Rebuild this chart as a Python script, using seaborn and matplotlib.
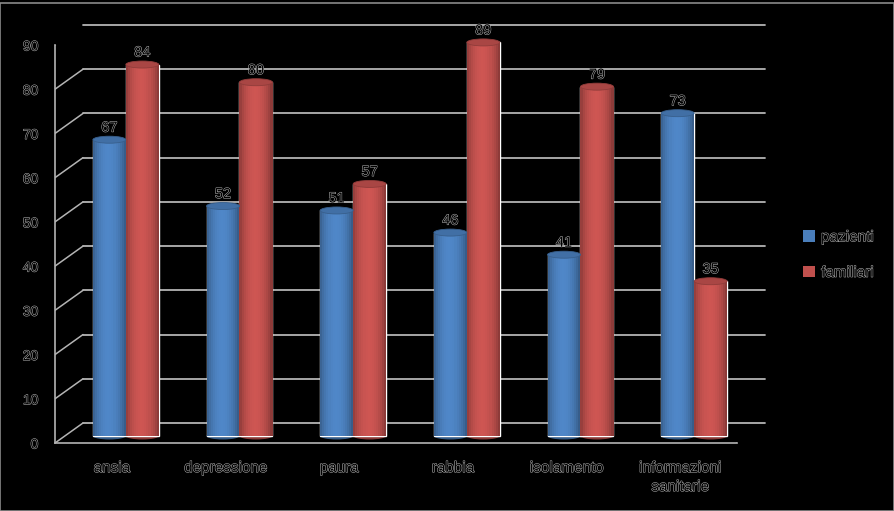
import matplotlib
matplotlib.use("Agg")
import matplotlib.pyplot as plt
import matplotlib.patheffects as pe
from matplotlib.patches import Ellipse, Rectangle, Patch
from matplotlib.transforms import ScaledTranslation
import numpy as np
import pandas as pd
import seaborn as sns

categories = ["ansia", "depressione", "paura", "rabbia", "isolamento", "informazioni\nsanitarie"]
pazienti = [67, 52, 51, 46, 41, 73]
familiari = [84, 80, 57, 89, 79, 35]
series_names = ["pazienti", "familiari"]
colors = {"pazienti": "#4a7ebb", "familiari": "#c0504d"}

df = pd.DataFrame({
    "categoria": categories * 2,
    "valore": pazienti + familiari,
    "gruppo": [series_names[0]] * len(categories) + [series_names[1]] * len(categories),
})

sns.set_theme(style="white")
plt.rcParams["font.family"] = ["Liberation Sans", "DejaVu Sans"]

W, H = 895, 511
fig = plt.figure(figsize=(W / 100, H / 100), dpi=100, facecolor="black")
ax = fig.add_axes([55 / W, (H - 443) / H, 682 / W, (443 - 45) / H])
ax.set_facecolor("none")

grid_col = "#b4b4b4"
# dark text with a faint light outline, like the reference
outline = [pe.withStroke(linewidth=0.7, foreground="#b8b8b8")]

sns.barplot(data=df, x="categoria", y="valore", hue="gruppo", order=categories,
            hue_order=series_names, palette=colors, width=0.58, legend=False,
            saturation=1, ax=ax)
ax.set_xlim(-0.5, 5.5)
ax.set_ylim(0, 90)

# pixel offsets for a fake 3D depth
back = ax.transData + ScaledTranslation(28 / 100, 20 / 100, fig.dpi_scale_trans)
mid = ax.transData + ScaledTranslation(14 / 100, 7 / 100, fig.dpi_scale_trans)

# back wall, floor and left side lines
for v in range(0, 91, 10):
    ax.plot([-0.5, 5.5], [v, v], color=grid_col, lw=1.3, transform=back, clip_on=False, zorder=0)
    x0, y0 = ax.transData.transform((-0.5, v))
    x1, y1 = back.transform((-0.5, v))
    ax.add_line(plt.Line2D([x0, x1], [y0, y1], color=grid_col, lw=1.1,
                           transform=None, zorder=0))
x0, y0 = ax.transData.transform((5.5, 0))
x1, y1 = back.transform((5.5, 0))
ax.add_line(plt.Line2D([x0, x1], [y0, y1], color=grid_col, lw=1.1, transform=None, zorder=0))

# cylinder look for the bars
px_per_unit = (443 - 45) / 90
cap_h = 7 / px_per_unit
n_strip = 16
for p in list(ax.patches):
    base = np.array(matplotlib.colors.to_rgb(p.get_facecolor()))
    x, w, h = p.get_x(), p.get_width(), p.get_height()
    p.set_transform(mid)
    p.set_clip_on(False)
    p.set_zorder(2)
    dark = np.clip(base * 0.72, 0, 1)
    bottom = Ellipse((x + w / 2, 0), w, cap_h, facecolor=dark, edgecolor="none",
                     transform=mid, clip_on=False, zorder=1.9)
    ax.add_patch(bottom)
    for i in range(n_strip):
        t = (i + 0.5) / n_strip
        f = 0.72 + 0.38 * np.sin(np.pi * t) ** 0.7 - 0.06 * t
        c = np.clip(base * f, 0, 1)
        ax.add_patch(Rectangle((x + i * w / n_strip, 0), w / n_strip * 1.05, h,
                               facecolor=c, edgecolor="none", transform=mid,
                               clip_on=False, zorder=2.1))
    top = Ellipse((x + w / 2, h), w, cap_h, facecolor=np.clip(base * 0.88, 0, 1),
                  edgecolor=np.clip(base * 0.75, 0, 1), lw=0.6, transform=mid,
                  clip_on=False, zorder=2.3)
    ax.add_patch(top)
    ax.annotate(f"{h:.0f}", xy=(x + w / 2, h), xycoords=mid, xytext=(0, 12),
                textcoords="offset pixels", ha="center", va="center", fontsize=10.5,
                color="black", path_effects=outline, zorder=3)

for s in ["top", "right"]:
    ax.spines[s].set_visible(False)
for s in ["left", "bottom"]:
    ax.spines[s].set_color(grid_col)
    ax.spines[s].set_linewidth(1.2)

ax.set_yticks(range(0, 91, 10))
ax.set_xticks(range(len(categories)))
ax.set_xticklabels(categories)
ax.set_xticks(np.arange(-0.5, 6, 1), minor=True)
ax.tick_params(axis="y", direction="in", length=5, color=grid_col, pad=12, labelsize=10)
ax.tick_params(axis="x", which="major", length=0, pad=13, labelsize=11)
ax.tick_params(axis="x", which="minor", direction="in", length=4, color=grid_col)
for lab in ax.get_xticklabels() + ax.get_yticklabels():
    lab.set_color("black")
    lab.set_path_effects(outline)
    lab.set_linespacing(1.45)
ax.set_xlabel("")
ax.set_ylabel("")

handles = [Patch(facecolor=colors[n], edgecolor="none") for n in series_names]
leg = fig.legend(handles, series_names, loc="center left",
                 bbox_to_anchor=(789 / W, 1 - 255 / H), frameon=False,
                 handlelength=0.8, handleheight=0.8, handletextpad=0.4,
                 labelspacing=1.4, fontsize=11)
for t in leg.get_texts():
    t.set_color("black")
    t.set_path_effects(outline)

fig.add_artist(Rectangle((0.5 / W, 0.5 / H), 1 - 1.5 / W, 1 - 3 / H, transform=fig.transFigure,
                         fill=False, edgecolor="#8a8a8a", lw=1.2))

fig.savefig("out.png", dpi=100, facecolor="black")
